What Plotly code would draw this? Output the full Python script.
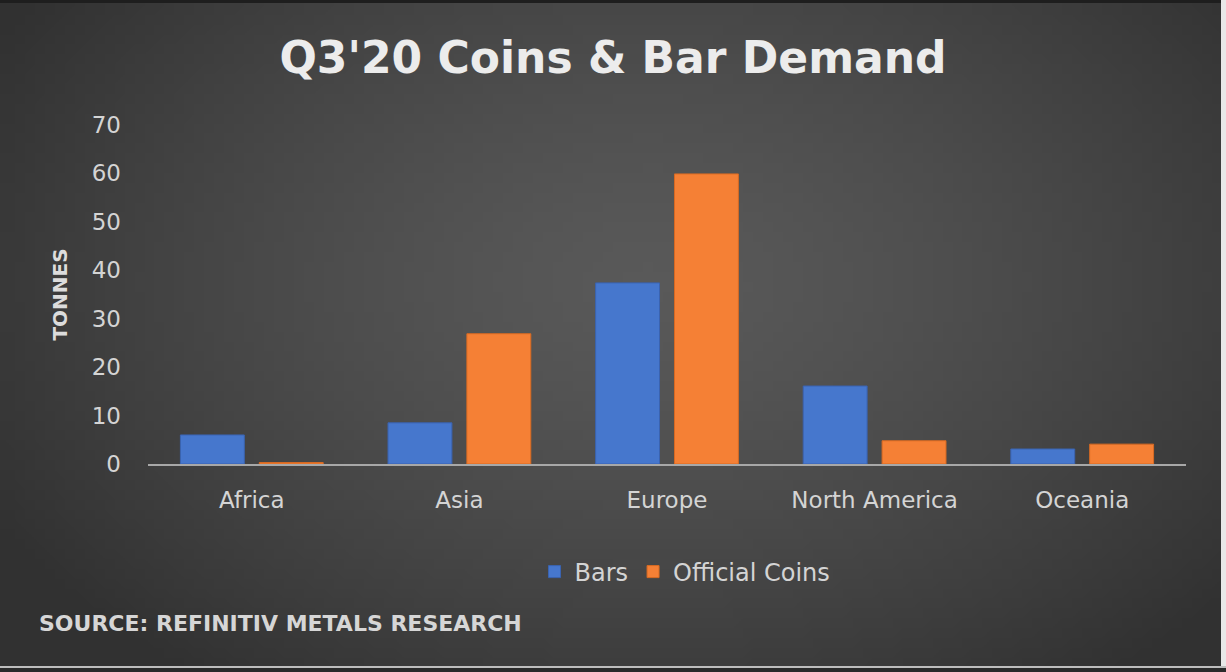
import plotly.graph_objects as go
import zlib, struct, base64

categories = ["Africa", "Asia", "Europe", "North America", "Oceania"]
bars = [6.0, 8.5, 37.4, 16.1, 3.1]
official_coins = [0.3, 26.9, 59.9, 4.8, 4.1]
y_ticks = [0, 10, 20, 30, 40, 50, 60, 70]

W, H = 1226, 672
L, R, T, B = 148, 40, 125, 208
PW, PH = W - L - R, H - T - B


def px_x(p):
    return (p - L) / PW


def px_y(p):
    return (H - B - p) / PH


def radial_png(w=123, h=68, cx=0.53, cy=0.42, inner=0x59, outer=0x31):
    rows = b""
    for j in range(h):
        row = b"\x00"
        for i in range(w):
            dx = (i / (w - 1) - cx) / 0.62
            dy = (j / (h - 1) - cy) / 0.75
            r = min(1.0, (dx * dx + dy * dy) ** 0.5)
            v = int(round(inner + (outer - inner) * r ** 1.4))
            row += bytes([v, v, v])
        rows += row

    def chunk(t, d):
        c = struct.pack(">I", len(d)) + t + d
        return c + struct.pack(">I", zlib.crc32(t + d) & 0xffffffff)

    png = b"\x89PNG\r\n\x1a\n" + chunk(b"IHDR", struct.pack(">IIBBBBB", w, h, 8, 2, 0, 0, 0))
    png += chunk(b"IDAT", zlib.compress(rows, 9)) + chunk(b"IEND", b"")
    return "data:image/png;base64," + base64.b64encode(png).decode()


fig = go.Figure()
fig.add_trace(go.Bar(name="Bars", x=categories, y=bars,
                     marker=dict(color="#4677cd", line=dict(color="#3a63b0", width=1))))
fig.add_trace(go.Bar(name="Official Coins", x=categories, y=official_coins,
                     marker=dict(color="#f58035", line=dict(color="#d96a22", width=1))))

edge = dict(xref="paper", yref="paper", type="rect", layer="above", line=dict(width=0))
shapes = [
    dict(edge, x0=px_x(0), x1=px_x(W), y0=px_y(0), y1=px_y(3), fillcolor="#1e1e1e"),
    dict(edge, x0=px_x(1221), x1=px_x(W), y0=px_y(0), y1=px_y(H), fillcolor="#e8e8e8"),
    dict(edge, x0=px_x(0), x1=px_x(W), y0=px_y(666), y1=px_y(668), fillcolor="#bdbdbd"),
    dict(edge, x0=px_x(0), x1=px_x(W), y0=px_y(668), y1=px_y(H), fillcolor="#2a2a2a"),
]

fig.update_layout(
    width=W, height=H,
    paper_bgcolor="#444444", plot_bgcolor="rgba(0,0,0,0)",
    margin=dict(l=L, r=R, t=T, b=B),
    barmode="group", bargap=0.24, bargroupgap=0.19,
    images=[dict(source=radial_png(), xref="paper", yref="paper",
                 x=px_x(0), y=px_y(0), sizex=W / PW, sizey=H / PH,
                 xanchor="left", yanchor="top", sizing="stretch", layer="below")],
    shapes=shapes,
    title=dict(text="<b>Q3'20 Coins & Bar Demand</b>", x=0.5, xref="container", xanchor="center",
               y=1 - 58 / H, yref="container", yanchor="middle",
               font=dict(family="DejaVu Sans", size=44, color="#ececec")),
    font=dict(family="DejaVu Sans", color="#d4d4d4"),
    showlegend=True,
    legend=dict(orientation="h", x=px_x(685), xanchor="center", y=px_y(572), yanchor="middle",
                font=dict(size=24, color="#d4d4d4"), bgcolor="rgba(0,0,0,0)",
                traceorder="normal"),
    xaxis=dict(showgrid=False, showline=True, linecolor="#a8a8a8", linewidth=2,
               tickfont=dict(size=23, color="#d4d4d4"), ticks="", ticklabelstandoff=14),
    yaxis=dict(range=[0, 70], tickvals=y_ticks, showgrid=False, zeroline=False,
               tickfont=dict(size=23, color="#d4d4d4"), ticks="", ticklabelstandoff=26,
               title=dict(text="<b>TONNES</b>", font=dict(size=20, color="#dcdcdc"), standoff=18)),
    annotations=[dict(text="<b>SOURCE: REFINITIV METALS RESEARCH</b>", xref="paper", yref="paper",
                      x=px_x(37), y=px_y(623), xanchor="left", yanchor="middle",
                      showarrow=False,
                      font=dict(family="DejaVu Sans", size=22, color="#d6d6d6"))],
)
fig.write_html("out.html", config={"displayModeBar": False},
               post_script="document.body.style.margin='0';")
